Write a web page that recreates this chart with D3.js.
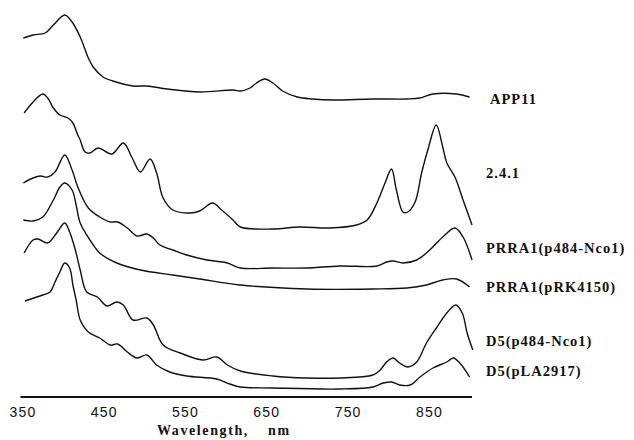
<!DOCTYPE html>
<html><head><meta charset="utf-8">
<script src="https://cdn.jsdelivr.net/npm/d3@7"></script>
<style>
html,body{margin:0;padding:0;background:#fff;}
svg{display:block;}
</style>
</head><body>
<svg id="chart" width="634" height="440"></svg>
<script>
// Wavelength (nm) and stacked relative absorbance (arbitrary units, offset per trace)
const app11 = [[351,359],[363,362],[378,364],[388,372],[402,382],[411,375],[421,360],[431,339],[437,330],[449,320],[461,316],[486,311],[503,311],[528,308],[568,305],[609,307],[618,306],[630,309],[638,314],[648,318],[658,314],[670,306],[688,300],[707,298],[732,297],[781,298],[823,298],[839,299],[855,303],[884,303],[900,300]];
const s241 = [[352,284],[363,295],[375,303],[381,299],[388,289],[396,282],[406,279],[412,274],[418,262],[421,257],[427,245],[433,244],[443,249],[460,243],[474,254],[485,239],[495,225],[507,238],[515,224],[523,199],[535,187],[556,184],[568,186],[584,194],[595,187],[609,177],[618,170],[658,168],[691,170],[728,169],[761,172],[774,177],[786,194],[796,214],[804,228],[810,207],[818,185],[824,185],[833,195],[841,224],[849,248],[859,272],[867,250],[872,234],[882,220],[892,197],[903,172]];
const prra1p484 = [[351,214],[363,219],[372,221],[381,220],[390,225],[402,242],[411,227],[418,210],[431,189],[445,180],[458,175],[467,175],[479,169],[491,161],[503,163],[511,159],[519,152],[535,147],[552,142],[577,137],[602,134],[618,129],[658,129],[700,129],[740,131],[786,131],[798,135],[806,136],[818,134],[835,137],[851,147],[867,160],[882,169],[892,160],[903,137]];
const prra1pRK = [[351,177],[363,176],[375,180],[388,197],[396,210],[402,214],[411,207],[416,192],[421,174],[433,157],[445,144],[466,134],[495,127],[535,122],[568,118],[618,112],[700,108],[781,108],[823,109],[847,112],[867,117],[884,118],[900,110]];
const d5p484 = [[352,144],[363,157],[369,158],[381,154],[392,164],[402,174],[408,165],[415,147],[421,127],[429,105],[442,100],[454,91],[466,95],[474,92],[486,77],[503,79],[511,72],[523,52],[544,44],[572,37],[589,40],[602,32],[618,26],[658,21],[700,19],[740,19],[781,22],[790,27],[798,35],[806,39],[814,34],[824,30],[835,35],[847,54],[860,70],[872,84],[883,92],[891,84],[897,64],[904,47]];
const d5pLA = [[353,96],[375,102],[384,105],[390,115],[396,125],[402,134],[408,129],[412,112],[416,97],[421,77],[431,65],[445,59],[458,52],[467,53],[479,45],[491,39],[503,42],[515,32],[531,25],[552,21],[589,18],[605,13],[618,10],[658,9],[740,8],[781,10],[794,14],[804,15],[814,12],[827,12],[839,20],[855,29],[872,35],[880,39],[888,34],[900,20]];

const seriesNames = ["APP11","2.4.1","PRRA1(p484-Nco1)","PRRA1(pRK4150)","D5(p484-Nco1)","D5(pLA2917)"];
const seriesData = [app11, s241, prra1p484, prra1pRK, d5p484, d5pLA];
const xTicks = [350,450,550,650,750,850];
const xDomain = [350,903];
const xTitle = "Wavelength,";
const xUnit = "nm";

// layout
const labelY = [99,173,248,287,341,371];
const svg = d3.select("#chart");
const x = d3.scaleLinear().domain(xDomain).range([22.5, 472]);
const y = d3.scaleLinear().domain([0,397]).range([397,0]);

const line = d3.line().x(d=>x(d[0])).y(d=>y(d[1])).curve(d3.curveCatmullRom.alpha(0.5));

svg.append("g").selectAll("path").data(seriesData).join("path")
  .attr("d", line)
  .attr("fill","none")
  .attr("stroke","#111")
  .attr("stroke-width",1.4)
  .attr("stroke-linejoin","round");

// axis
const axis = d3.axisBottom(x).tickValues(xTicks).tickSize(0).tickPadding(0).tickFormat(d3.format("d"));
const gx = svg.append("g").attr("transform","translate(0,397)").call(axis);
gx.select(".domain").attr("d", `M${x(350)-2},0H${x(903)}`).attr("stroke","#111").attr("stroke-width",2);
gx.selectAll(".tick text")
  .attr("dy",null).attr("y",20)
  .attr("font-family","'Liberation Sans', Arial, sans-serif")
  .attr("font-size",14).attr("letter-spacing",1.2).attr("fill","#111");

svg.append("text").attr("x",157).attr("y",435)
  .attr("font-family","'Liberation Serif','Times New Roman',serif").attr("font-weight","bold")
  .attr("font-size",14).attr("letter-spacing",1.6).attr("fill","#111").text(xTitle);
svg.append("text").attr("x",268).attr("y",435)
  .attr("font-family","'Liberation Serif','Times New Roman',serif").attr("font-weight","bold")
  .attr("font-size",14).attr("letter-spacing",1.6).attr("fill","#111").text(xUnit);

svg.append("g").selectAll("text").data(seriesNames).join("text")
  .attr("x",(d,i)=> i===0 ? 490 : 486)
  .attr("y",(d,i)=>labelY[i]+5)
  .attr("font-family","'Liberation Serif','Times New Roman',serif")
  .attr("font-weight","bold").attr("font-size",14.5).attr("letter-spacing",1)
  .attr("fill","#111").text(d=>d);
</script>
</body></html>
